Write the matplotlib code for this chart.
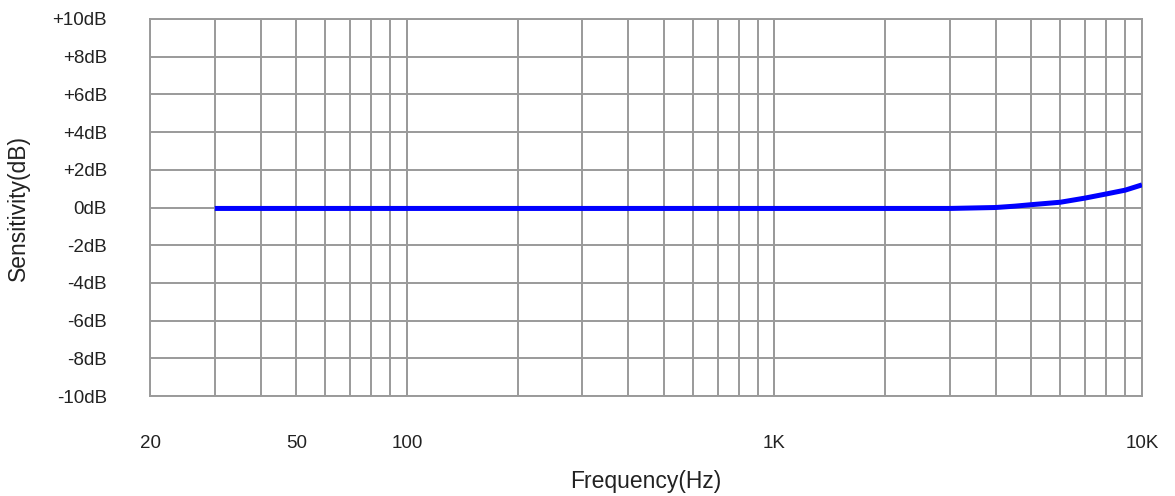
import numpy as np
import matplotlib
matplotlib.use("Agg")
import matplotlib.pyplot as plt
from matplotlib.ticker import FixedLocator, NullLocator

plt.rcParams['font.family'] = ['Liberation Sans', 'DejaVu Sans']

# response curve
freq = [30, 40, 50, 100, 200, 500, 1000, 2000, 3000, 4000, 4500, 5000, 6000, 7000, 8000, 9000, 10000]
sens = [-0.05, -0.05, -0.05, -0.05, -0.05, -0.05, -0.05, -0.05, -0.05, 0.0, 0.07, 0.15, 0.28, 0.5, 0.72, 0.92, 1.2]

xtick_vals = [20, 50, 100, 1000, 10000]
xtick_labels = ['20', '50', '100', '1K', '10K']
grid_x = [f for d in (10, 100, 1000) for f in range(2 * d if d == 10 else d, 10 * d + 1, d)]
ytick_vals = list(range(-10, 11, 2))
ytick_labels = [('+%ddB' % v if v > 0 else '%ddB' % v) for v in ytick_vals]

fig = plt.figure(figsize=(11.75, 4.96), dpi=100)
ax = fig.add_axes([0.1277, 0.2016, 0.8442, 0.7601])

gcol = '#9a9a9a'
for gx in grid_x:
    ax.axvline(gx, color=gcol, lw=1.4, zorder=1)
for gy in ytick_vals:
    ax.axhline(gy, color=gcol, lw=1.4, zorder=1)

ax.plot(freq, sens, color='#0000ff', lw=3.6, solid_capstyle='butt', zorder=3)

ax.set_xscale('log')
ax.set_xlim(20, 10000)
ax.set_ylim(-10, 10)
ax.xaxis.set_major_locator(FixedLocator(xtick_vals))
ax.xaxis.set_minor_locator(NullLocator())
ax.set_xticklabels(xtick_labels)
ax.set_yticks(ytick_vals)
ax.set_yticklabels(ytick_labels)
ax.tick_params(axis='both', length=0, labelsize=13.5, colors='#222222')
ax.tick_params(axis='y', pad=31)
ax.tick_params(axis='x', pad=28)

for s in ax.spines.values():
    s.set_color(gcol)
    s.set_linewidth(1.4)

ax.set_xlabel('Frequency(Hz)', fontsize=16.5, color='#222222')
ax.set_ylabel('Sensitivity(dB)', fontsize=16.5, color='#222222')
ax.xaxis.label.set_va('center')
ax.yaxis.label.set_va('center')
ax.xaxis.set_label_coords(0.5, -0.2255)
ax.yaxis.set_label_coords(-0.133, 0.5)

fig.savefig('out.png', dpi=100)
